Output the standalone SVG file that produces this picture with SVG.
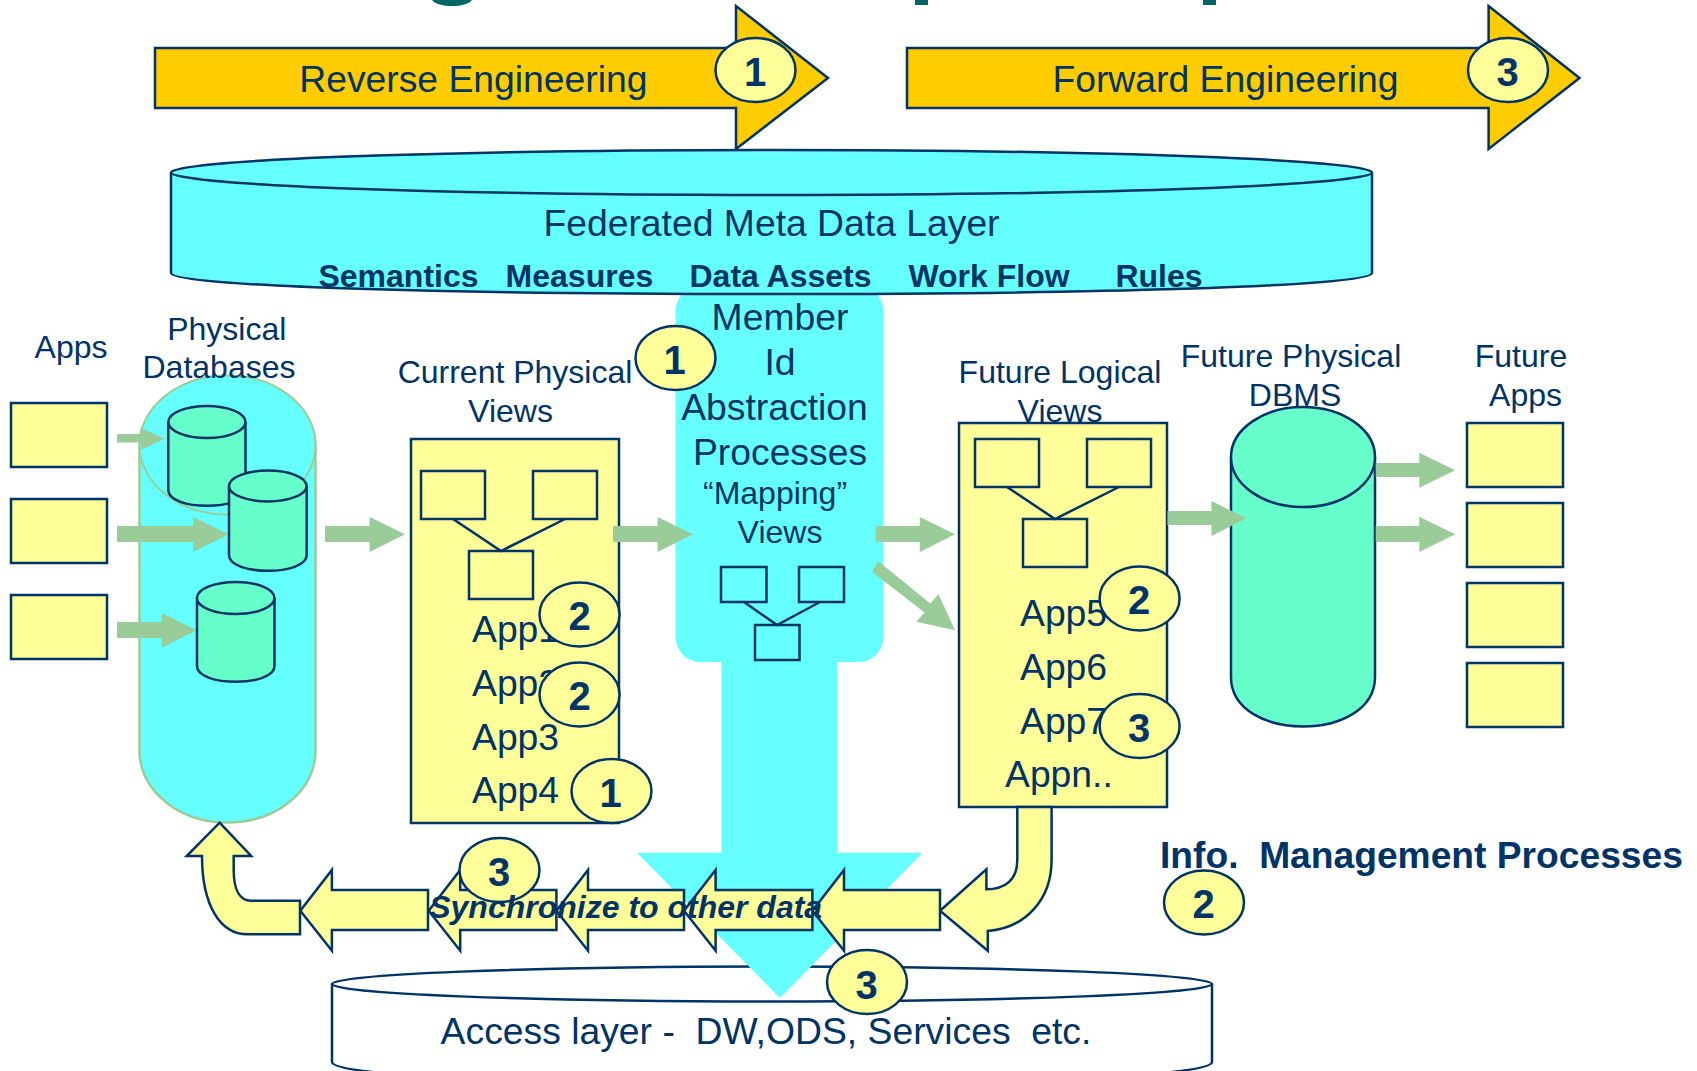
<svg xmlns="http://www.w3.org/2000/svg" width="1697" height="1071" viewBox="0 0 1697 1071">
<style>
text{font-family:"Liberation Sans",Arial,sans-serif;fill:#003366;text-anchor:middle}
.t37{font-size:37.3px}.t32{font-size:32px}.b{font-weight:bold;font-size:32px}
.s{text-anchor:start}
.n{font-weight:bold;font-size:40px}
.y{fill:#ffff99;stroke:#003366;stroke-width:2.5}
.o{fill:#ffcc00;stroke:#003366;stroke-width:2.5}
.c{fill:#66ffff;stroke:#003366;stroke-width:2.5}
.g{fill:#66ffcc;stroke:#003366;stroke-width:2.5}
.w{fill:#fff;stroke:#003366;stroke-width:2.5}
.a{fill:#99cc99}
.l{fill:none;stroke:#003366;stroke-width:2.5}
.bub{fill:#ffff99;stroke:#003366;stroke-width:2.5}
</style>
<g id="title-remnants" fill="#006666"><path d="M432 0C438 8 466 8 472 0Z"/><rect x="915" y="0" width="13" height="5"/><rect x="1203" y="0" width="13" height="5"/></g>
<g id="access-layer"><path class="w" d="M332 984V1062C332 1092 1212 1092 1212 1062V984"/><ellipse class="w" cx="772" cy="984" rx="440" ry="17.5"/></g>
<g id="down-arrow"><path d="M721.5 650H837.5V852.7H922.5L780 998L637 852.7H721.5Z" fill="#66ffff"/></g>
<g id="mapping"><rect x="675.5" y="286" width="208" height="376" rx="24" ry="26" fill="#66ffff"/></g>
<g id="reverse-engineering"><path class="o" d="M155 48H736V6L828 78L736 149V108H155Z"/><text class="t37" x="473.4" y="92">Reverse Engineering</text></g>
<g id="forward-engineering"><path class="o" d="M907 48H1488.6V6L1579.5 78L1488.6 149V108H907Z"/><text class="t37" x="1225.5" y="92">Forward Engineering</text></g>
<g id="federated"><path class="c" d="M171 172.5V273C171 301 1372 301 1372 273V172.5"/><ellipse class="c" cx="771.5" cy="172.5" rx="600.5" ry="22.5"/>
<text class="t37" x="771.5" y="236">Federated Meta Data Layer</text>
<text class="b" x="398.5" y="287">Semantics</text><text class="b" x="579.4" y="287">Measures</text><text class="b" x="780.5" y="287">Data Assets</text><text class="b" x="989" y="287">Work Flow</text><text class="b" x="1159" y="287">Rules</text></g>
<g id="mapping-content">
<text class="t37" x="780" y="330">Member</text><text class="t37" x="780" y="375">Id</text><text class="t37" x="774.5" y="420">Abstraction</text><text class="t37" x="780" y="465">Processes</text>
<text class="t32" x="775" y="504">“Mapping”</text><text class="t32" x="780" y="543">Views</text>
<rect class="c" x="721" y="567" width="45.5" height="35"/><rect class="c" x="799" y="567" width="45" height="35"/><rect class="c" x="755" y="625" width="44.5" height="35"/>
<path class="l" d="M744 602L777 625L820 602"/></g>
<g id="apps"><rect class="y" x="11" y="403" width="96" height="64"/><rect class="y" x="11" y="499" width="96" height="64"/><rect class="y" x="11" y="595" width="96" height="64"/><text class="t32" x="71" y="358">Apps</text></g>
<g id="physical"><rect x="139.5" y="376" width="176" height="446.5" rx="88" ry="71" fill="#66ffff" stroke="#99cc99" stroke-width="2.5"/>
<ellipse cx="227.5" cy="445" rx="88" ry="69.5" fill="#66ffff" stroke="#99cc99" stroke-width="2"/>
<text class="t32" x="226.8" y="340">Physical</text><text class="t32" x="219" y="378">Databases</text></g>
<g id="db1"><path class="g" d="M168.3 422V490C168.3 511 245.5 511 245.5 490V422"/><ellipse class="g" cx="206.9" cy="422" rx="38.6" ry="16"/></g>
<g id="db2"><path class="g" d="M229 486V555C229 576 306.7 576 306.7 555V486"/><ellipse class="g" cx="267.8" cy="486" rx="38.8" ry="15.5"/></g>
<g id="db3"><path class="g" d="M197 598V666C197 687 274.5 687 274.5 666V598"/><ellipse class="g" cx="235.7" cy="598" rx="38.8" ry="16"/></g>
<g id="current"><rect class="y" x="411" y="439" width="208" height="384"/>
<rect class="y" x="421" y="471" width="64" height="48"/><rect class="y" x="533" y="471" width="64" height="48"/><rect class="y" x="469" y="551" width="64" height="48"/>
<path class="l" d="M453 519L501 551L565 519"/>
<text class="t32" x="515" y="383">Current Physical</text><text class="t32" x="510.5" y="422">Views</text>
<text class="t37 s" x="472" y="642">App1</text><text class="t37 s" x="472" y="696">App2</text><text class="t37 s" x="472" y="750">App3</text><text class="t37 s" x="472" y="803">App4</text></g>
<g id="future-logical"><rect class="y" x="959" y="423" width="208" height="384"/>
<rect class="y" x="975" y="439" width="64" height="48"/><rect class="y" x="1087" y="439" width="64" height="48"/><rect class="y" x="1023" y="519" width="64" height="48"/>
<path class="l" d="M1007 487L1055 519L1119 487"/>
<text class="t32" x="1060" y="383">Future Logical</text><text class="t32" x="1060" y="422">Views</text>
<text class="t37 s" x="1020" y="626">App5</text><text class="t37 s" x="1020" y="680">App6</text><text class="t37 s" x="1020" y="734">App7</text><text class="t37 s" x="1005" y="787">Appn..</text></g>
<g id="future-dbms"><path class="g" d="M1231 457V677C1231 743 1375 743 1375 677V457"/><ellipse class="g" cx="1303" cy="457" rx="72" ry="50"/>
<text class="t32" x="1291" y="367">Future Physical</text><text class="t32" x="1295" y="406">DBMS</text></g>
<g id="future-apps"><rect class="y" x="1467" y="423" width="96" height="64"/><rect class="y" x="1467" y="503" width="96" height="64"/><rect class="y" x="1467" y="583" width="96" height="64"/><rect class="y" x="1467" y="663" width="96" height="64"/><text class="t32" x="1521" y="367">Future</text><text class="t32" x="1525.5" y="406">Apps</text></g>
<g id="connectors">
<path class="a" d="M117 434H140.6V428L165 438.4L140.6 450V442.5H117Z"/>
<path class="a" d="M117 526H193V517L228.6 534.3L193 552V542H117Z"/>
<path class="a" d="M117 622H161.6V612.7L196.4 630.2L161.6 647.8V638H117Z"/>
<path class="a" d="M325 526H369.6V517L405 534.3L369.6 552V542H325Z"/>
<path class="a" d="M613 526H657.6V517L693 534.3L657.6 552V542H613Z"/>
<path class="a" d="M875.7 526H919.8V517L955 534.3L919.8 552V542H875.7Z"/>
<path class="a" d="M878 561L930.3 603.5L938.5 594.3L955 630.3L916.3 621.8L924.5 612.5L872.3 572Z"/>
<path class="a" d="M1167.4 511H1211.4V501L1246.6 518.3L1211.4 536V525H1167.4Z"/>
<path class="a" d="M1375.7 463H1419.3V452.7L1455.2 470.3L1419.3 487.7V477H1375.7Z"/>
<path class="a" d="M1375.7 526H1419.3V516.7L1455.2 534.3L1419.3 552V542H1375.7Z"/>
<path class="y" d="M1017.3 807V860C1017.3 880 1005 889.3 986.4 889.3V869.3L940 910.7L987.8 950.7V931C1025 928 1051.6 900 1051.6 860V807Z"/>
<path class="y" d="M940 890H844V870L812.4 910.7L844 950.7V930H940Z"/>
<path class="y" d="M812.4 890H715.6V870L684 910.7L715.6 950.7V930H812.4Z"/>
<path class="y" d="M684 890H588V870L556.4 910.7L588 950.7V930H684Z"/>
<path class="y" d="M556.4 890H460.2V870L428.7 910.7L460.2 950.7V930H556.4Z"/>
<path class="y" d="M428 890H331.9V870L300.3 910.7L331.9 950.7V930H428Z"/>
<path class="y" d="M219.6 822.7L251.2 856H233.7V870C233.7 890 240 900.7 251 900.7H300V934.3H247.7C220 934.3 202 905 202 856H186.7Z"/>
</g>
<g id="bubble-re"><ellipse class="bub" cx="755.5" cy="70" rx="40" ry="32"/><text class="n" x="755" y="86">1</text></g>
<g id="bubble-fe"><ellipse class="bub" cx="1508" cy="70" rx="40" ry="32"/><text class="n" x="1507.5" y="86">3</text></g>
<g id="bubble-map"><ellipse class="bub" cx="675.5" cy="358" rx="40" ry="32"/><text class="n" x="674.5" y="374">1</text></g>
<g id="bubble-app1"><ellipse class="bub" cx="579.5" cy="614.5" rx="40" ry="32"/><text class="n" x="579.5" y="630">2</text></g>
<g id="bubble-app2"><ellipse class="bub" cx="579.5" cy="694.5" rx="40" ry="32"/><text class="n" x="579.5" y="710">2</text></g>
<g id="bubble-app4"><ellipse class="bub" cx="611.5" cy="791" rx="40" ry="32"/><text class="n" x="610.5" y="807">1</text></g>
<g id="bubble-app5"><ellipse class="bub" cx="1139.6" cy="598.5" rx="40" ry="32"/><text class="n" x="1139" y="614">2</text></g>
<g id="bubble-app7"><ellipse class="bub" cx="1139.6" cy="726" rx="40" ry="32"/><text class="n" x="1139" y="742">3</text></g>
<g id="bubble-sync"><ellipse class="bub" cx="499.5" cy="870" rx="40" ry="32"/><text class="n" x="499" y="886">3</text></g>
<g id="bubble-access"><ellipse class="bub" cx="867" cy="982" rx="40" ry="32"/><text class="n" x="866.5" y="999">3</text></g>
<g id="bubble-info"><ellipse class="bub" cx="1204" cy="902.5" rx="40" ry="32"/><text class="n" x="1203.5" y="918">2</text></g>
<g id="labels">
<text x="625.7" y="918" style="font-size:32px;font-weight:bold;font-style:italic">Synchronize to other data</text>
<text class="t37" x="766" y="1044" xml:space="preserve">Access layer -  DW,ODS, Services  etc.</text>
<text class="s" x="1160" y="868" xml:space="preserve" style="font-size:37.2px;font-weight:bold">Info.  Management Processes</text>
</g>
</svg>
